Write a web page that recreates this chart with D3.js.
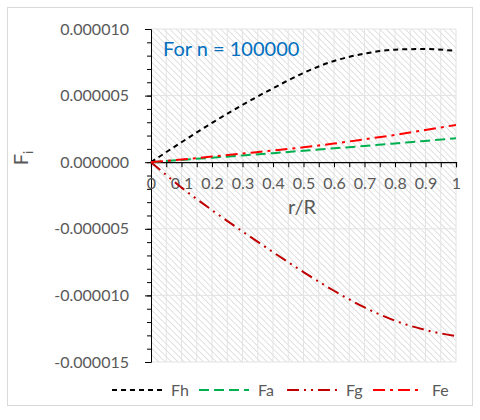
<!DOCTYPE html>
<html><head><meta charset="utf-8">
<script src="https://cdn.jsdelivr.net/npm/d3@7"></script>
<style>body{margin:0;background:#fff;}text{font-family:Lato,"Open Sans",sans-serif;}</style>
</head><body><svg id="c" width="480" height="420"></svg>
<script>
const rR = [0,0.1,0.2,0.3,0.4,0.5,0.6,0.7,0.8,0.9,1.0];
const Fh = [0,1.5e-6,2.95e-6,4.3e-6,5.55e-6,6.7e-6,7.6e-6,8.15e-6,8.45e-6,8.5e-6,8.35e-6];
const Fa = [0,0.17e-6,0.34e-6,0.51e-6,0.68e-6,0.86e-6,1.04e-6,1.22e-6,1.41e-6,1.6e-6,1.8e-6];
const Fg = [0,-1.9e-6,-3.6e-6,-5.2e-6,-6.75e-6,-8.25e-6,-9.65e-6,-10.9e-6,-11.9e-6,-12.6e-6,-13.05e-6];
const Fe = [0,0.2e-6,0.42e-6,0.65e-6,0.88e-6,1.12e-6,1.4e-6,1.72e-6,2.05e-6,2.42e-6,2.8e-6];
const yTicks = [0.000010,0.000005,0,-0.000005,-0.000010,-0.000015];
const xTicks = [0,0.1,0.2,0.3,0.4,0.5,0.6,0.7,0.8,0.9,1];
const seriesNames = ["Fh","Fa","Fg","Fe"];
const seriesValues = [Fh,Fa,Fg,Fe];
const seriesColors = ["#000000","#00B050","#C00000","#FF0000"];
const seriesDash = ["5,4","10,5","12,5,2,5,2,5","12,5,3,5"];

const svg = d3.select("#c");
svg.append("rect").attr("x",7.5).attr("y",7.5).attr("width",465).attr("height",398)
  .attr("fill","#fff").attr("stroke","#d9d9d9");

const L=151, R=456, T=29, B=362;
const x = d3.scaleLinear().domain([0,1]).range([L,R]);
const y = d3.scaleLinear().domain([-0.000015,0.000010]).range([B,T]);

const defs = svg.append("defs");
const pat = defs.append("pattern").attr("id","hatch").attr("patternUnits","userSpaceOnUse")
  .attr("width",4.5).attr("height",4.5).attr("patternTransform","rotate(-45)");
pat.append("rect").attr("width",4.5).attr("height",4.5).attr("fill","#fff");
pat.append("line").attr("x1",0).attr("y1",0).attr("x2",0).attr("y2",4.5)
  .attr("stroke","#d6d6d6").attr("stroke-width",1.5);
svg.append("rect").attr("x",L).attr("y",T).attr("width",R-L).attr("height",B-T).attr("fill","url(#hatch)");

// gridlines
const g = svg.append("g");
g.selectAll(".vg").data(d3.range(1,21).map(i=>i*0.05)).join("line")
  .attr("x1",d=>x(d)).attr("x2",d=>x(d)).attr("y1",T).attr("y2",B)
  .attr("stroke","#e3e3e3").attr("stroke-width",1);
g.selectAll(".hg").data(yTicks).join("line")
  .attr("x1",L).attr("x2",R).attr("y1",d=>y(d)).attr("y2",d=>y(d))
  .attr("stroke","#e3e3e3").attr("stroke-width",1);

// y axis
const yAx = svg.append("g").attr("transform",`translate(${L},0)`)
  .call(d3.axisLeft(y).tickValues(yTicks).tickFormat(d3.format(".6f")).tickSize(6).tickPadding(16));
yAx.select(".domain").attr("stroke","#000");
yAx.selectAll("text").attr("font-size",16).attr("fill","#595959")
  .text(d=> (d<0?"-":"") + Math.abs(d).toFixed(6));
const yMinor = svg.append("g").attr("transform",`translate(${L},0)`)
  .call(d3.axisLeft(y).tickValues(d3.range(-15,11).map(i=>i*1e-6)).tickFormat("").tickSize(4));
yMinor.select(".domain").remove();

// x axis at y=0
const xAx = svg.append("g").attr("transform",`translate(0,${y(0)})`)
  .call(d3.axisBottom(x).tickValues(xTicks).tickFormat(d=>d3.format("")(d)).tickSize(5).tickPadding(10));
xAx.select(".domain").attr("stroke","#000").attr("stroke-width",1.2);
xAx.selectAll("text").attr("font-size",16).attr("fill","#595959");
const xMinor = svg.append("g").attr("transform",`translate(0,${y(0)})`)
  .call(d3.axisBottom(x).tickValues(d3.range(1,20,2).map(i=>i*0.05)).tickFormat("").tickSize(5));
xMinor.select(".domain").remove();
svg.selectAll(".tick line").attr("stroke","#000");

// lines
const line = d3.line().curve(d3.curveMonotoneX);
seriesValues.forEach((vals,i)=>{
  svg.append("path").attr("d",line(rR.map((r,j)=>[x(r),y(vals[j])])))
    .attr("fill","none").attr("stroke",seriesColors[i]).attr("stroke-width",2)
    .attr("stroke-dasharray",seriesDash[i]);
});

// titles
svg.append("text").attr("x",302).attr("y",214).attr("text-anchor","middle")
  .attr("font-size",20).attr("fill","#595959").text("r/R");
const yt = svg.append("text").attr("transform","translate(28,158) rotate(-90)")
  .attr("text-anchor","middle").attr("font-size",20).attr("fill","#595959");
yt.append("tspan").text("F");
yt.append("tspan").attr("font-size",13).attr("dy",5).text("i");

svg.append("text").attr("x",163).attr("y",56).attr("font-size",20).attr("fill","#0070C0").text("For n = 100000");

// legend
const legX = [112,199,287,373];
seriesNames.forEach((n,i)=>{
  svg.append("line").attr("x1",legX[i]).attr("x2",legX[i]+50).attr("y1",390).attr("y2",390)
    .attr("stroke",seriesColors[i]).attr("stroke-width",2).attr("stroke-dasharray",seriesDash[i]);
  svg.append("text").attr("x",legX[i]+59).attr("y",396).attr("font-size",16).attr("fill","#595959").text(n);
});
</script></body></html>
